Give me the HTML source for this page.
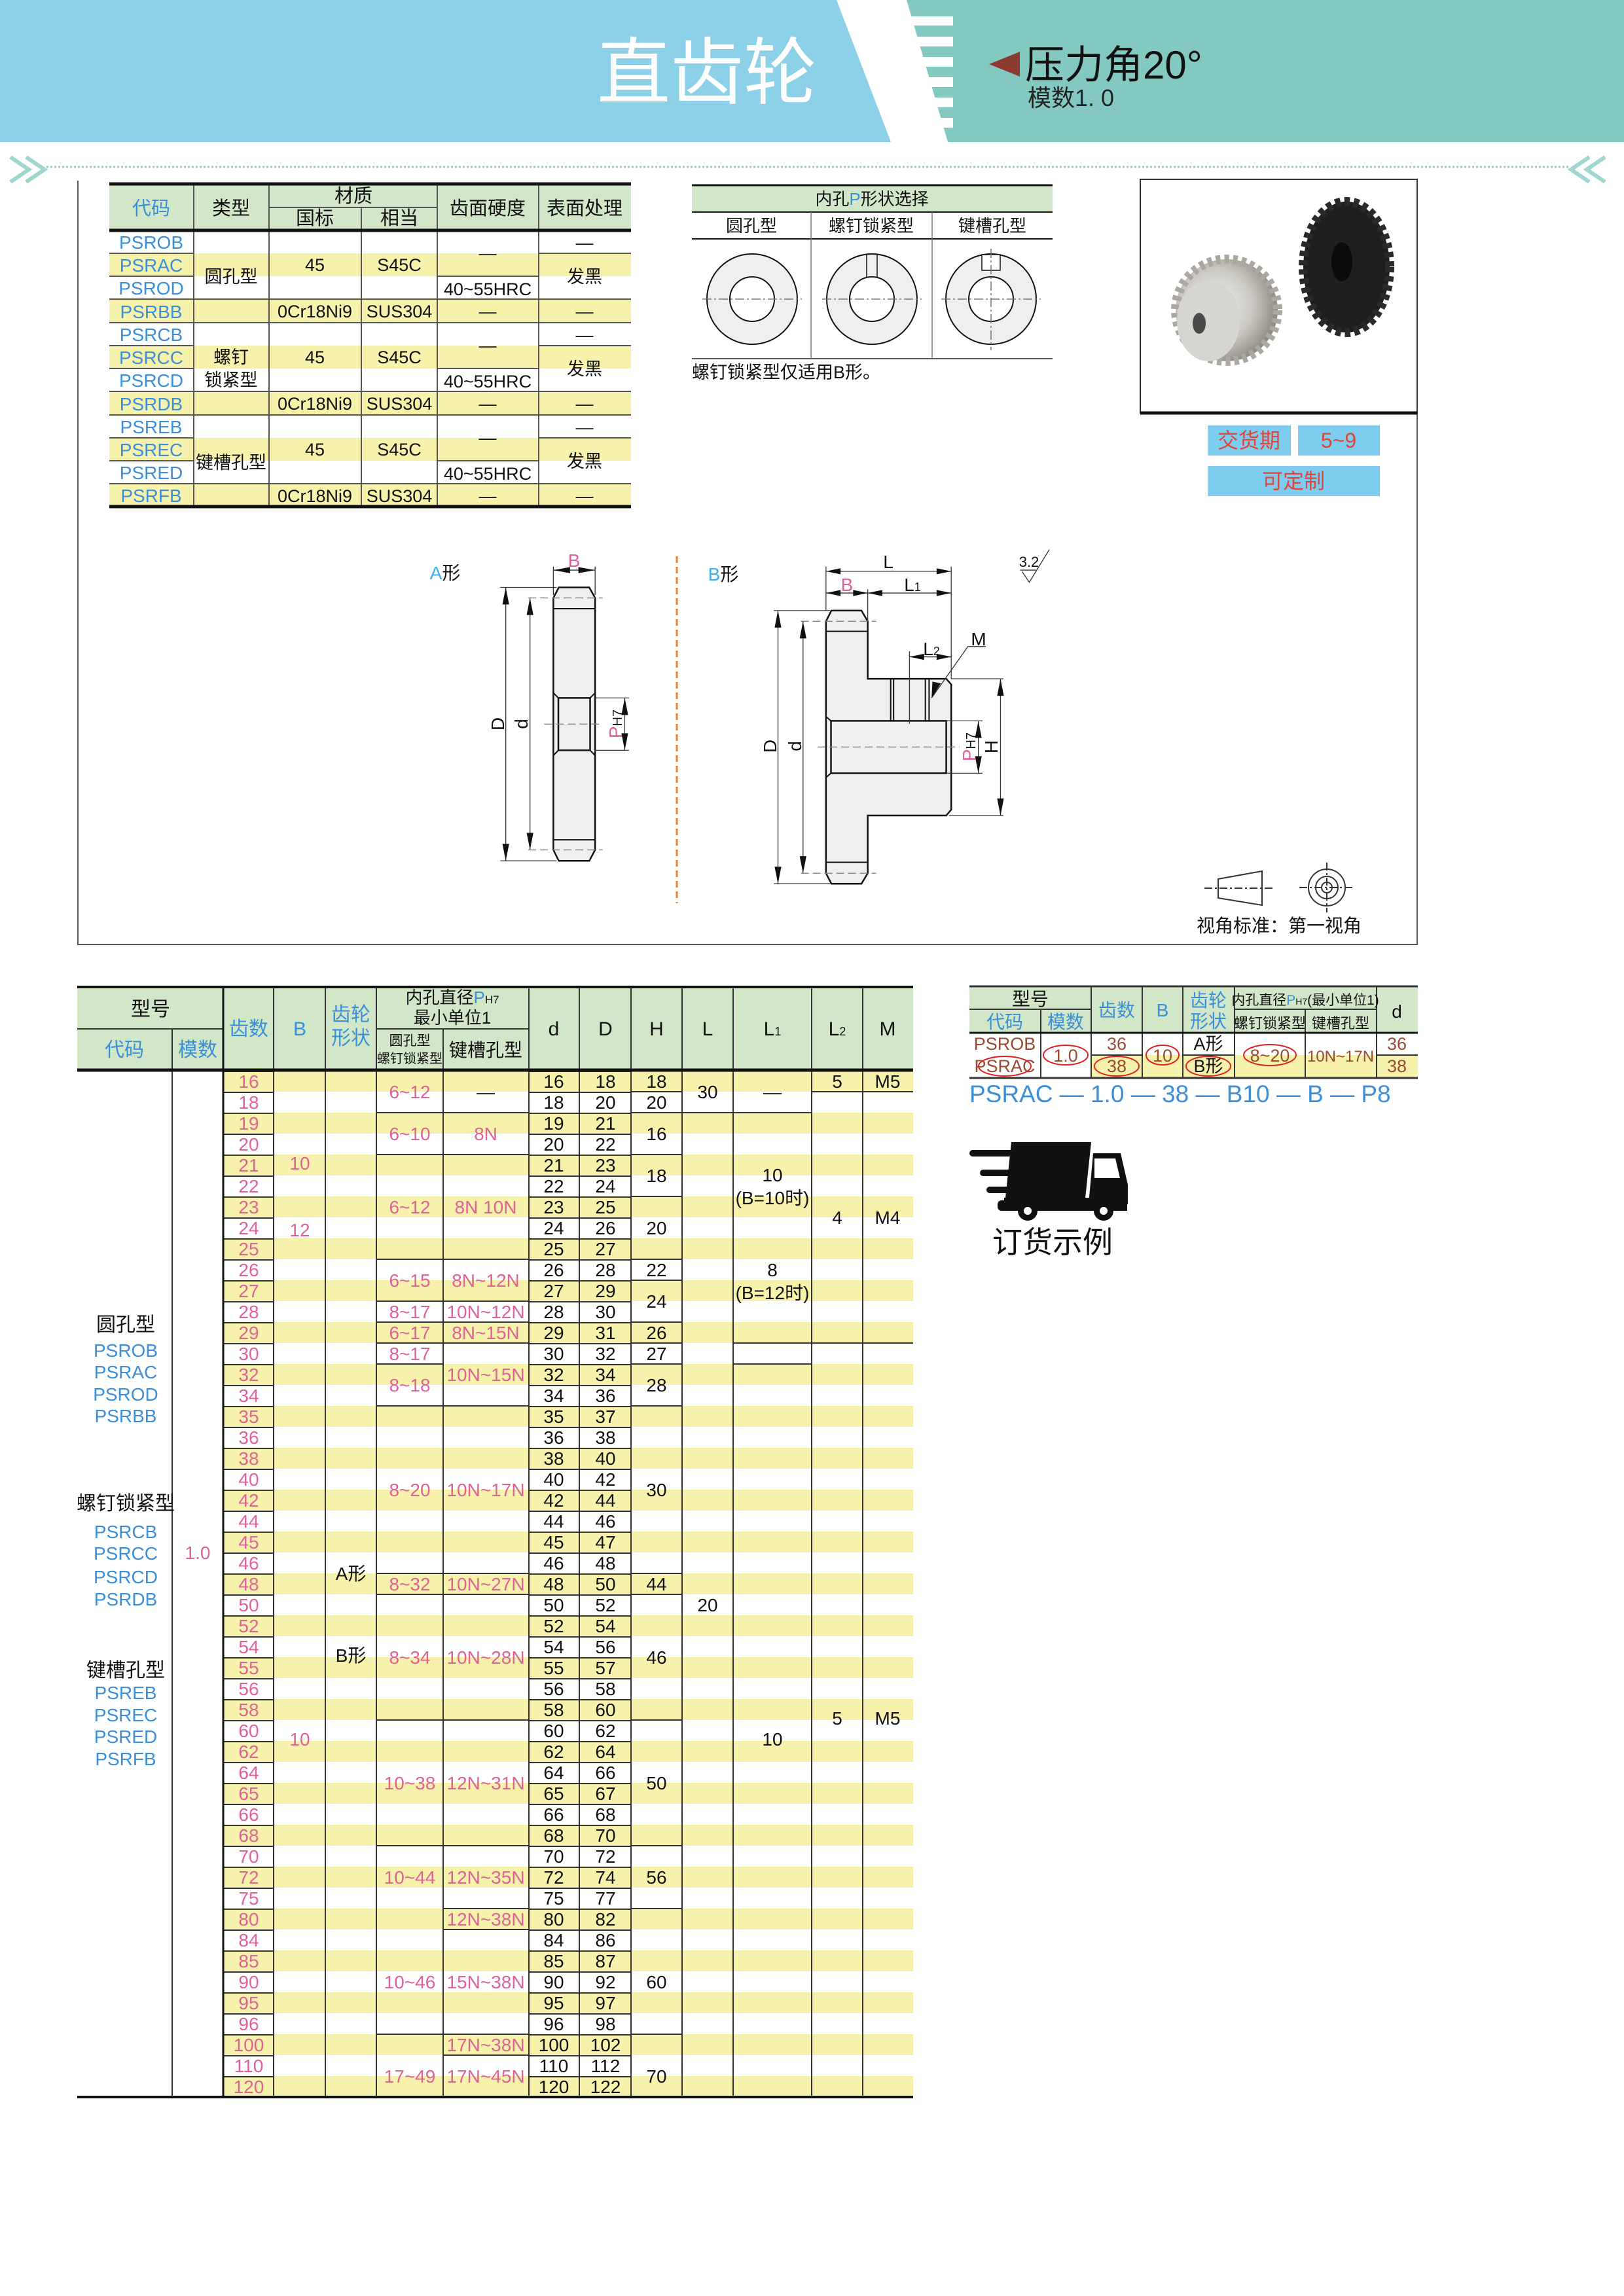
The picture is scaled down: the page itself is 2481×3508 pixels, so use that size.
<!DOCTYPE html>
<html><head><meta charset="utf-8"><style>
html,body{margin:0;padding:0;background:#fff;}
svg{display:block;}
text{font-family:"Liberation Sans","Noto Sans CJK SC",sans-serif;}
</style></head><body>
<svg width="2481" height="3508" viewBox="0 0 2481 3508" xmlns="http://www.w3.org/2000/svg">
<defs>
<pattern id="ystripe" x="0" y="1636" width="10" height="64" patternUnits="userSpaceOnUse"><rect x="0" y="0" width="10" height="32" fill="#f6f2ab"/></pattern>
<pattern id="rowline" x="0" y="1636" width="10" height="32" patternUnits="userSpaceOnUse"><rect x="0" y="0" width="10" height="2" fill="#333"/></pattern>
<radialGradient id="silver" cx="0.4" cy="0.45" r="0.6"><stop offset="0" stop-color="#f4f4f4"/><stop offset="0.6" stop-color="#c9c7c0"/><stop offset="1" stop-color="#8d8a82"/></radialGradient>
</defs>

<!-- HEADER -->
<rect x="0" y="0" width="2481" height="217" fill="#8dd1e8"/>
<polygon points="1385,0 2481,0 2481,217 1448,217" fill="#84c9c1"/>
<polygon points="1278,0 1385,0 1448,217 1361,217" fill="#fff"/>
<g fill="#fff">
<rect x="1385" y="25" width="71" height="14"/><rect x="1392" y="56" width="64" height="15"/><rect x="1400" y="87" width="56" height="15"/><rect x="1408" y="118" width="48" height="15"/><rect x="1416" y="149" width="40" height="15"/><rect x="1424" y="180" width="32" height="15"/>
</g>
<text x="1080" y="150" font-size="112" fill="#fff" text-anchor="middle">直齿轮</text>
<polygon points="1558,79 1558,117 1511,98" fill="#8b3a2e"/>
<text x="1566" y="120" font-size="60" fill="#111">压力角20°</text>
<text x="1570" y="162" font-size="36" fill="#222">模数1. 0</text>

<!-- dotted line + chevrons -->
<line x1="71" y1="255" x2="2397" y2="255" stroke="#8fcfc5" stroke-width="3" stroke-dasharray="3,3"/>
<polyline points="16,240 44,259 16,278" fill="none" stroke="#9fd6cf" stroke-width="6"/>
<polyline points="40,240 68,259 40,278" fill="none" stroke="#9fd6cf" stroke-width="6"/>
<polyline points="2452,240 2424,259 2452,278" fill="none" stroke="#9fd6cf" stroke-width="6"/>
<polyline points="2428,240 2400,259 2428,278" fill="none" stroke="#9fd6cf" stroke-width="6"/>

<!-- frame -->
<polyline points="119,276 119,1443 2165,1443 2165,631" fill="none" stroke="#555" stroke-width="2"/>

<!-- TOP-LEFT MATERIAL TABLE -->
<rect x="167" y="281" width="797" height="71" fill="#d2e7c8"/>
<g fill="#f6f2ab">
<rect x="167" y="387" width="797" height="35"/><rect x="167" y="457" width="797" height="36"/>
<rect x="167" y="528" width="797" height="35"/><rect x="167" y="598" width="797" height="36"/>
<rect x="167" y="669" width="797" height="35"/><rect x="167" y="739" width="797" height="35"/>
</g>
<g stroke="#555" stroke-width="2">
<line x1="296" y1="281" x2="296" y2="774"/><line x1="411" y1="281" x2="411" y2="774"/>
<line x1="552" y1="317" x2="552" y2="774"/><line x1="668" y1="281" x2="668" y2="774"/>
<line x1="823" y1="281" x2="823" y2="774"/>
<line x1="411" y1="317" x2="668" y2="317"/>
<line x1="167" y1="493" x2="964" y2="493"/><line x1="167" y1="634" x2="964" y2="634"/>
<line x1="167" y1="387" x2="296" y2="387"/><line x1="167" y1="422" x2="296" y2="422"/><line x1="167" y1="457" x2="964" y2="457"/>
<line x1="167" y1="528" x2="296" y2="528"/><line x1="167" y1="563" x2="296" y2="563"/><line x1="167" y1="598" x2="964" y2="598"/>
<line x1="167" y1="669" x2="296" y2="669"/><line x1="167" y1="704" x2="296" y2="704"/><line x1="167" y1="739" x2="964" y2="739"/>
<line x1="823" y1="387" x2="964" y2="387"/><line x1="823" y1="528" x2="964" y2="528"/><line x1="823" y1="669" x2="964" y2="669"/>
<line x1="668" y1="422" x2="823" y2="422"/><line x1="668" y1="563" x2="823" y2="563"/><line x1="668" y1="704" x2="823" y2="704"/>
</g>
<line x1="167" y1="281" x2="964" y2="281" stroke="#111" stroke-width="5"/>
<line x1="167" y1="352" x2="964" y2="352" stroke="#111" stroke-width="5"/>
<line x1="167" y1="774" x2="964" y2="774" stroke="#111" stroke-width="5"/>
<g font-size="29" text-anchor="middle" fill="#111">
<text x="231" y="328" fill="#3a8fd8">代码</text><text x="353" y="328">类型</text>
<text x="540" y="309">材质</text><text x="481" y="343">国标</text><text x="610" y="343">相当</text>
<text x="745" y="328">齿面硬度</text><text x="893" y="328">表面处理</text>
</g>
<g font-size="28" text-anchor="middle" fill="#3a8fd8" font-family="Liberation Serif, serif">
<text x="231" y="380">PSROB</text><text x="231" y="415">PSRAC</text><text x="231" y="450">PSROD</text><text x="231" y="486">PSRBB</text>
<text x="231" y="521">PSRCB</text><text x="231" y="556">PSRCC</text><text x="231" y="591">PSRCD</text><text x="231" y="627">PSRDB</text>
<text x="231" y="662">PSREB</text><text x="231" y="697">PSREC</text><text x="231" y="732">PSRED</text><text x="231" y="767">PSRFB</text>
</g>
<g font-size="27" text-anchor="middle" fill="#111">
<text x="353" y="432">圆孔型</text><text x="353" y="555">螺钉</text><text x="353" y="590">锁紧型</text><text x="353" y="716">键槽孔型</text>
<text x="481" y="414">45</text><text x="610" y="414">S45C</text><text x="745" y="396">—</text><text x="745" y="451">40~55HRC</text><text x="893" y="380">—</text><text x="893" y="432">发黑</text>
<text x="481" y="485">0Cr18Ni9</text><text x="610" y="485">SUS304</text><text x="745" y="485">—</text><text x="893" y="485">—</text>
<text x="481" y="555">45</text><text x="610" y="555">S45C</text><text x="745" y="537">—</text><text x="745" y="592">40~55HRC</text><text x="893" y="521">—</text><text x="893" y="573">发黑</text>
<text x="481" y="626">0Cr18Ni9</text><text x="610" y="626">SUS304</text><text x="745" y="626">—</text><text x="893" y="626">—</text>
<text x="481" y="696">45</text><text x="610" y="696">S45C</text><text x="745" y="678">—</text><text x="745" y="733">40~55HRC</text><text x="893" y="662">—</text><text x="893" y="714">发黑</text>
<text x="481" y="767">0Cr18Ni9</text><text x="610" y="767">SUS304</text><text x="745" y="767">—</text><text x="893" y="767">—</text>
</g>

<!-- SHAPE TABLE -->
<rect x="1057" y="283" width="551" height="41" fill="#d2e7c8"/>
<line x1="1057" y1="283" x2="1608" y2="283" stroke="#111" stroke-width="3"/>
<line x1="1057" y1="324" x2="1608" y2="324" stroke="#111" stroke-width="2"/>
<line x1="1057" y1="365" x2="1608" y2="365" stroke="#111" stroke-width="2"/>
<line x1="1057" y1="548" x2="1608" y2="548" stroke="#555" stroke-width="2"/>
<line x1="1239" y1="324" x2="1239" y2="548" stroke="#777" stroke-width="1.5"/>
<line x1="1424" y1="324" x2="1424" y2="548" stroke="#777" stroke-width="1.5"/>
<text x="1332" y="313" font-size="26" text-anchor="middle" fill="#111">内孔<tspan fill="#3a8fd8">P</tspan>形状选择</text>
<g font-size="26" text-anchor="middle" fill="#111"><text x="1148" y="354">圆孔型</text><text x="1331" y="354">螺钉锁紧型</text><text x="1516" y="354">键槽孔型</text></g>
<g stroke="#111" stroke-width="2">
<circle cx="1149" cy="457" r="69" fill="#efefef"/><circle cx="1149" cy="457" r="34" fill="#fff"/>
<circle cx="1332" cy="457" r="69" fill="#efefef"/><circle cx="1332" cy="457" r="34" fill="#fff"/>
<line x1="1324" y1="389" x2="1324" y2="424" stroke-width="1.5"/><line x1="1340" y1="389" x2="1340" y2="424" stroke-width="1.5"/>
<circle cx="1514" cy="457" r="69" fill="#efefef"/><circle cx="1514" cy="457" r="34" fill="#fff"/>
<rect x="1500" y="389" width="28" height="24" fill="#fff" stroke-width="1.5"/>
</g>
<g stroke="#777" stroke-width="1.5" stroke-dasharray="14,4,3,4">
<line x1="1073" y1="457" x2="1225" y2="457"/><line x1="1256" y1="457" x2="1408" y2="457"/><line x1="1438" y1="457" x2="1590" y2="457"/>
<line x1="1514" y1="380" x2="1514" y2="535"/>
</g>
<text x="1057" y="578" font-size="27" fill="#111">螺钉锁紧型仅适用B形。</text>

<!-- PHOTO -->
<rect x="1742" y="274" width="423" height="357" fill="#fff" stroke="#333" stroke-width="2"/>
<line x1="1742" y1="631" x2="2165" y2="631" stroke="#111" stroke-width="5"/>
<ellipse cx="2057" cy="408" rx="66" ry="100" fill="#1e1f1e" stroke="#2a2a2a" stroke-width="14" stroke-dasharray="8,6"/>
<ellipse cx="2050" cy="400" rx="16" ry="30" fill="#0c0c0c"/>
<circle cx="1874" cy="474" r="78" fill="url(#silver)" stroke="#aaa89f" stroke-width="14" stroke-dasharray="7,6"/>
<ellipse cx="1846" cy="490" rx="48" ry="62" fill="#d6d5d0"/>
<ellipse cx="1832" cy="494" rx="10" ry="16" fill="#4a4a48"/>

<!-- DELIVERY -->
<rect x="1845" y="650" width="127" height="46" fill="#7fcdee"/>
<rect x="1983" y="650" width="125" height="46" fill="#7fcdee"/>
<rect x="1845" y="712" width="263" height="46" fill="#7fcdee"/>
<g font-size="32" text-anchor="middle" fill="#e0443a"><text x="1908" y="684">交货期</text><text x="2045" y="684">5~9</text><text x="1976" y="746">可定制</text></g>

<!-- DRAWINGS -->
<line x1="1034" y1="850" x2="1034" y2="1380" stroke="#f07a2a" stroke-width="3" stroke-dasharray="10,6"/>
<g transform="translate(640,820) scale(0.6378,0.3571)">
<g fill="#efefef" stroke="#111" stroke-width="2.5">
<polygon points="335,217 408,217 422,262 422,1340 408,1387 335,1387 322,1340 322,262" vector-effect="non-scaling-stroke"/>
<polygon points="988,316 1060,316 1075,362 1075,608 1263,608 1275,632 1275,1168 1263,1193 1075,1193 1075,1440 1060,1485 988,1485 975,1440 975,362" vector-effect="non-scaling-stroke"/>
<rect x="987" y="788" width="276" height="224" fill="#efefef" vector-effect="non-scaling-stroke"/>
<rect x="334" y="690" width="76" height="224" fill="#efefef" vector-effect="non-scaling-stroke"/>
</g>
<g stroke="#111" stroke-width="2" fill="none">
<line x1="322" y1="308" x2="422" y2="308" vector-effect="non-scaling-stroke"/><line x1="322" y1="1297" x2="422" y2="1297" vector-effect="non-scaling-stroke"/>
<line x1="322" y1="668" x2="334" y2="690" vector-effect="non-scaling-stroke"/><line x1="422" y1="668" x2="410" y2="690" vector-effect="non-scaling-stroke"/>
<line x1="322" y1="936" x2="334" y2="914" vector-effect="non-scaling-stroke"/><line x1="422" y1="936" x2="410" y2="914" vector-effect="non-scaling-stroke"/>
<line x1="975" y1="405" x2="1075" y2="405" vector-effect="non-scaling-stroke"/><line x1="975" y1="1393" x2="1075" y2="1393" vector-effect="non-scaling-stroke"/>
<line x1="975" y1="770" x2="987" y2="788" vector-effect="non-scaling-stroke"/><line x1="975" y1="1030" x2="987" y2="1012" vector-effect="non-scaling-stroke"/>
<line x1="1130" y1="608" x2="1130" y2="788" vector-effect="non-scaling-stroke"/><line x1="1137" y1="608" x2="1137" y2="788" vector-effect="non-scaling-stroke"/>
<line x1="1213" y1="608" x2="1213" y2="788" vector-effect="non-scaling-stroke"/><line x1="1222" y1="608" x2="1222" y2="788" vector-effect="non-scaling-stroke"/>
</g>
<g stroke="#333" stroke-width="1.3" fill="none">
<line x1="208" y1="217" x2="208" y2="1387" vector-effect="non-scaling-stroke"/><line x1="266" y1="262" x2="266" y2="1340" vector-effect="non-scaling-stroke"/>
<line x1="195" y1="217" x2="330" y2="217" vector-effect="non-scaling-stroke"/><line x1="195" y1="1387" x2="330" y2="1387" vector-effect="non-scaling-stroke"/>
<line x1="322" y1="128" x2="322" y2="250" vector-effect="non-scaling-stroke"/><line x1="422" y1="128" x2="422" y2="250" vector-effect="non-scaling-stroke"/>
<line x1="322" y1="143" x2="422" y2="143" vector-effect="non-scaling-stroke"/>
<line x1="420" y1="690" x2="503" y2="690" vector-effect="non-scaling-stroke"/><line x1="420" y1="914" x2="503" y2="914" vector-effect="non-scaling-stroke"/>
<line x1="493" y1="690" x2="493" y2="914" vector-effect="non-scaling-stroke"/>
<line x1="975" y1="128" x2="975" y2="316" vector-effect="non-scaling-stroke"/><line x1="1075" y1="225" x2="1075" y2="362" vector-effect="non-scaling-stroke"/>
<line x1="1275" y1="128" x2="1275" y2="608" vector-effect="non-scaling-stroke"/><line x1="1175" y1="490" x2="1175" y2="800" vector-effect="non-scaling-stroke"/>
<line x1="975" y1="148" x2="1275" y2="148" vector-effect="non-scaling-stroke"/><line x1="975" y1="241" x2="1275" y2="241" vector-effect="non-scaling-stroke"/>
<line x1="1175" y1="514" x2="1275" y2="514" vector-effect="non-scaling-stroke"/>
<line x1="860" y1="316" x2="860" y2="1485" vector-effect="non-scaling-stroke"/><line x1="920" y1="362" x2="920" y2="1440" vector-effect="non-scaling-stroke"/>
<line x1="850" y1="316" x2="985" y2="316" vector-effect="non-scaling-stroke"/><line x1="850" y1="1485" x2="985" y2="1485" vector-effect="non-scaling-stroke"/>
<line x1="1393" y1="608" x2="1393" y2="1193" vector-effect="non-scaling-stroke"/>
<line x1="1275" y1="608" x2="1400" y2="608" vector-effect="non-scaling-stroke"/><line x1="1270" y1="1193" x2="1400" y2="1193" vector-effect="non-scaling-stroke"/>
<line x1="1340" y1="788" x2="1340" y2="1012" vector-effect="non-scaling-stroke"/>
<line x1="1265" y1="788" x2="1350" y2="788" vector-effect="non-scaling-stroke"/><line x1="1265" y1="1012" x2="1350" y2="1012" vector-effect="non-scaling-stroke"/>
<polyline points="1358,470 1315,470 1228,690" vector-effect="non-scaling-stroke"/>
<polyline points="1445,150 1462,195 1510,55" vector-effect="non-scaling-stroke"/><line x1="1440" y1="143" x2="1478" y2="143" vector-effect="non-scaling-stroke"/>
</g>
<g stroke="#888" stroke-width="1.5" stroke-dasharray="12,6" fill="none">
<line x1="262" y1="262" x2="440" y2="262" vector-effect="non-scaling-stroke"/><line x1="262" y1="1340" x2="440" y2="1340" vector-effect="non-scaling-stroke"/>
<line x1="915" y1="362" x2="1095" y2="362" vector-effect="non-scaling-stroke"/><line x1="915" y1="1440" x2="1095" y2="1440" vector-effect="non-scaling-stroke"/>
<line x1="300" y1="802" x2="440" y2="802" vector-effect="non-scaling-stroke"/><line x1="955" y1="900" x2="1295" y2="900" vector-effect="non-scaling-stroke"/>
</g>
<g fill="#111">
<polygon points="208,217 200,290 216,290"/><polygon points="208,1387 200,1314 216,1314"/>
<polygon points="266,262 258,335 274,335"/><polygon points="266,1340 258,1267 274,1267"/>
<polygon points="860,316 852,389 868,389"/><polygon points="860,1485 852,1412 868,1412"/>
<polygon points="920,362 912,435 928,435"/><polygon points="920,1440 912,1367 928,1367"/>
<polygon points="1393,608 1385,681 1401,681"/><polygon points="1393,1193 1385,1120 1401,1120"/>
<polygon points="1340,788 1332,861 1348,861"/><polygon points="1340,1012 1332,939 1348,939"/>
<polygon points="493,690 485,763 501,763"/><polygon points="493,914 485,841 501,841"/>
<polygon points="322,143 362,130 362,156"/><polygon points="422,143 382,130 382,156"/>
<polygon points="975,148 1010,135 1010,161"/><polygon points="1275,148 1240,135 1240,161"/>
<polygon points="975,241 1010,228 1010,254"/><polygon points="1075,241 1040,228 1040,254"/>
<polygon points="1075,241 1110,228 1110,254"/><polygon points="1275,241 1240,228 1240,254"/>
<polygon points="1175,514 1210,501 1210,527"/><polygon points="1275,514 1240,501 1240,527"/>
<polygon points="1228,690 1230,620 1250,628"/>
</g>
</g>
<g font-size="28" fill="#111" text-anchor="middle">
<text x="680" y="885"><tspan fill="#3fb0e6">A</tspan>形</text>
<text x="877" y="866" fill="#e0609a">B</text>
<text x="1105" y="887"><tspan fill="#3fb0e6">B</tspan>形</text>
<text x="1357" y="868">L</text>
<text x="1294" y="903" fill="#e0609a">B</text>
<text x="1394" y="903">L<tspan font-size="18">1</tspan></text>
<text x="1423" y="1001">L<tspan font-size="18">2</tspan></text>
<text x="1495" y="986">M</text>
<text x="1572" y="866" font-size="22">3.2</text>
</g>
<g font-size="28" fill="#111" text-anchor="middle">
<text transform="translate(770,1106) rotate(-90)">D</text>
<text transform="translate(806,1106) rotate(-90)">d</text>
<text transform="translate(950,1106) rotate(-90)" fill="#e0609a">P<tspan fill="#111" font-size="20">H7</tspan></text>
<text transform="translate(1186,1140) rotate(-90)">D</text>
<text transform="translate(1224,1140) rotate(-90)">d</text>
<text transform="translate(1490,1141) rotate(-90)" fill="#e0609a">P<tspan fill="#111" font-size="20">H7</tspan></text>
<text transform="translate(1524,1141) rotate(-90)">H</text>
</g>
<!-- view standard -->
<g stroke="#333" stroke-width="2" fill="#fff">
<polygon points="1861,1343 1928,1331 1928,1383 1861,1372"/>
<line x1="1840" y1="1357" x2="1946" y2="1357" stroke-dasharray="12,4,3,4"/>
<circle cx="2027" cy="1356" r="28"/><circle cx="2027" cy="1356" r="17"/><circle cx="2027" cy="1356" r="8"/>
<line x1="1985" y1="1356" x2="2069" y2="1356" stroke-dasharray="12,4,3,4"/><line x1="2027" y1="1318" x2="2027" y2="1394" stroke-dasharray="12,4,3,4"/>
</g>
<text x="1828" y="1424" font-size="28" fill="#111">视角标准：第一视角</text>

<!-- MAIN TABLE -->
<rect x="118" y="1508" width="1277" height="127" fill="#d2e7c8"/>
<rect x="341" y="1636" width="1054" height="1568" fill="url(#ystripe)"/>
<rect x="341" y="1636" width="77" height="1568" fill="url(#rowline)"/>
<rect x="808" y="1636" width="156" height="1568" fill="url(#rowline)"/>
<g stroke="#333" stroke-width="2">
<line x1="418" y1="1508" x2="418" y2="3204"/><line x1="497" y1="1508" x2="497" y2="3204"/><line x1="575" y1="1508" x2="575" y2="3204"/>
<line x1="677" y1="1572" x2="677" y2="3204"/><line x1="808" y1="1508" x2="808" y2="3204"/><line x1="885" y1="1508" x2="885" y2="3204"/>
<line x1="964" y1="1508" x2="964" y2="3204"/><line x1="1042" y1="1508" x2="1042" y2="3204"/><line x1="1120" y1="1508" x2="1120" y2="3204"/>
<line x1="1240" y1="1508" x2="1240" y2="3204"/><line x1="1318" y1="1508" x2="1318" y2="3204"/>
<line x1="263" y1="1572" x2="263" y2="3204"/>
<line x1="118" y1="1572" x2="341" y2="1572"/><line x1="575" y1="1572" x2="808" y2="1572"/>
</g>
<line x1="341" y1="1508" x2="341" y2="3204" stroke="#111" stroke-width="3"/>
<g stroke="#333" stroke-width="2">
<line x1="575" y1="1700" x2="808" y2="1700"/><line x1="575" y1="1764" x2="808" y2="1764"/><line x1="575" y1="1924" x2="808" y2="1924"/>
<line x1="575" y1="1988" x2="808" y2="1988"/><line x1="575" y1="2020" x2="808" y2="2020"/><line x1="575" y1="2052" x2="808" y2="2052"/>
<line x1="575" y1="2084" x2="677" y2="2084"/><line x1="575" y1="2148" x2="808" y2="2148"/><line x1="575" y1="2404" x2="808" y2="2404"/>
<line x1="575" y1="2436" x2="808" y2="2436"/><line x1="575" y1="2628" x2="808" y2="2628"/><line x1="575" y1="2820" x2="808" y2="2820"/>
<line x1="677" y1="2916" x2="808" y2="2916"/><line x1="677" y1="2948" x2="808" y2="2948"/><line x1="575" y1="3108" x2="808" y2="3108"/><line x1="677" y1="3140" x2="808" y2="3140"/>
<line x1="964" y1="1668" x2="1042" y2="1668"/><line x1="964" y1="1700" x2="1042" y2="1700"/><line x1="964" y1="1764" x2="1042" y2="1764"/>
<line x1="964" y1="1828" x2="1042" y2="1828"/><line x1="964" y1="1924" x2="1042" y2="1924"/><line x1="964" y1="1956" x2="1042" y2="1956"/>
<line x1="964" y1="2020" x2="1042" y2="2020"/><line x1="964" y1="2052" x2="1042" y2="2052"/><line x1="964" y1="2084" x2="1042" y2="2084"/>
<line x1="964" y1="2148" x2="1042" y2="2148"/><line x1="964" y1="2404" x2="1042" y2="2404"/><line x1="964" y1="2436" x2="1042" y2="2436"/>
<line x1="964" y1="2628" x2="1042" y2="2628"/><line x1="964" y1="2820" x2="1042" y2="2820"/><line x1="964" y1="2916" x2="1042" y2="2916"/><line x1="964" y1="3108" x2="1042" y2="3108"/>
<line x1="1042" y1="1700" x2="1240" y2="1700"/><line x1="1120" y1="2052" x2="1240" y2="2052"/><line x1="1120" y1="2084" x2="1240" y2="2084"/>
<line x1="1240" y1="1668" x2="1395" y2="1668"/><line x1="1240" y1="2052" x2="1395" y2="2052"/>
</g>
<line x1="118" y1="1508" x2="1395" y2="1508" stroke="#111" stroke-width="4"/>
<line x1="118" y1="1635" x2="1395" y2="1635" stroke="#111" stroke-width="5"/>
<line x1="118" y1="3204" x2="1395" y2="3204" stroke="#111" stroke-width="4"/>
<g font-size="30" text-anchor="middle" fill="#111">
<text x="230" y="1552">型号</text>
<text x="190" y="1614" fill="#3a8fd8">代码</text><text x="302" y="1614" fill="#3a8fd8">模数</text>
<text x="380" y="1582" fill="#3a8fd8">齿数</text><text x="458" y="1582" fill="#3a8fd8">B</text>
<text x="536" y="1560" fill="#3a8fd8">齿轮</text><text x="536" y="1596" fill="#3a8fd8">形状</text>
<text x="691" y="1533" font-size="26">内孔直径<tspan fill="#3a8fd8">P</tspan><tspan font-size="17">H7</tspan></text>
<text x="691" y="1564" font-size="26">最小单位1</text>
<text x="626" y="1597" font-size="21">圆孔型</text><text x="626" y="1624" font-size="20">螺钉锁紧型</text>
<text x="742" y="1614" font-size="28">键槽孔型</text>
<text x="846" y="1582">d</text><text x="925" y="1582">D</text><text x="1003" y="1582">H</text><text x="1081" y="1582">L</text>
<text x="1180" y="1582">L<tspan font-size="18">1</tspan></text><text x="1279" y="1582">L<tspan font-size="18">2</tspan></text><text x="1356" y="1582">M</text>
</g>
<g font-size="28" text-anchor="middle" fill="#3a8fd8">
<text x="192" y="2034" fill="#111" font-size="30">圆孔型</text><text x="192" y="2073">PSROB</text><text x="192" y="2106">PSRAC</text><text x="192" y="2140">PSROD</text><text x="192" y="2173">PSRBB</text>
<text x="192" y="2307" fill="#111" font-size="30">螺钉锁紧型</text><text x="192" y="2350">PSRCB</text><text x="192" y="2383">PSRCC</text><text x="192" y="2419">PSRCD</text><text x="192" y="2453">PSRDB</text>
<text x="192" y="2562" fill="#111" font-size="30">键槽孔型</text><text x="192" y="2596">PSREB</text><text x="192" y="2630">PSREC</text><text x="192" y="2663">PSRED</text><text x="192" y="2697">PSRFB</text>
</g>
<text x="302" y="2382" font-size="28" text-anchor="middle" fill="#e0609a">1.0</text>
<g font-size="28" text-anchor="middle" fill="#e0609a">
<text x="380" y="1662">16</text><text x="380" y="1694">18</text><text x="380" y="1726">19</text><text x="380" y="1758">20</text><text x="380" y="1790">21</text><text x="380" y="1822">22</text><text x="380" y="1854">23</text><text x="380" y="1886">24</text><text x="380" y="1918">25</text><text x="380" y="1950">26</text><text x="380" y="1982">27</text><text x="380" y="2014">28</text><text x="380" y="2046">29</text><text x="380" y="2078">30</text><text x="380" y="2110">32</text><text x="380" y="2142">34</text><text x="380" y="2174">35</text><text x="380" y="2206">36</text><text x="380" y="2238">38</text><text x="380" y="2270">40</text><text x="380" y="2302">42</text><text x="380" y="2334">44</text><text x="380" y="2366">45</text><text x="380" y="2398">46</text><text x="380" y="2430">48</text><text x="380" y="2462">50</text><text x="380" y="2494">52</text><text x="380" y="2526">54</text><text x="380" y="2558">55</text><text x="380" y="2590">56</text><text x="380" y="2622">58</text><text x="380" y="2654">60</text><text x="380" y="2686">62</text><text x="380" y="2718">64</text><text x="380" y="2750">65</text><text x="380" y="2782">66</text><text x="380" y="2814">68</text><text x="380" y="2846">70</text><text x="380" y="2878">72</text><text x="380" y="2910">75</text><text x="380" y="2942">80</text><text x="380" y="2974">84</text><text x="380" y="3006">85</text><text x="380" y="3038">90</text><text x="380" y="3070">95</text><text x="380" y="3102">96</text><text x="380" y="3134">100</text><text x="380" y="3166">110</text><text x="380" y="3198">120</text>
</g>
<g font-size="28" text-anchor="middle" fill="#111">
<text x="846" y="1662">16</text><text x="846" y="1694">18</text><text x="846" y="1726">19</text><text x="846" y="1758">20</text><text x="846" y="1790">21</text><text x="846" y="1822">22</text><text x="846" y="1854">23</text><text x="846" y="1886">24</text><text x="846" y="1918">25</text><text x="846" y="1950">26</text><text x="846" y="1982">27</text><text x="846" y="2014">28</text><text x="846" y="2046">29</text><text x="846" y="2078">30</text><text x="846" y="2110">32</text><text x="846" y="2142">34</text><text x="846" y="2174">35</text><text x="846" y="2206">36</text><text x="846" y="2238">38</text><text x="846" y="2270">40</text><text x="846" y="2302">42</text><text x="846" y="2334">44</text><text x="846" y="2366">45</text><text x="846" y="2398">46</text><text x="846" y="2430">48</text><text x="846" y="2462">50</text><text x="846" y="2494">52</text><text x="846" y="2526">54</text><text x="846" y="2558">55</text><text x="846" y="2590">56</text><text x="846" y="2622">58</text><text x="846" y="2654">60</text><text x="846" y="2686">62</text><text x="846" y="2718">64</text><text x="846" y="2750">65</text><text x="846" y="2782">66</text><text x="846" y="2814">68</text><text x="846" y="2846">70</text><text x="846" y="2878">72</text><text x="846" y="2910">75</text><text x="846" y="2942">80</text><text x="846" y="2974">84</text><text x="846" y="3006">85</text><text x="846" y="3038">90</text><text x="846" y="3070">95</text><text x="846" y="3102">96</text><text x="846" y="3134">100</text><text x="846" y="3166">110</text><text x="846" y="3198">120</text>
</g>
<g font-size="28" text-anchor="middle" fill="#111">
<text x="925" y="1662">18</text><text x="925" y="1694">20</text><text x="925" y="1726">21</text><text x="925" y="1758">22</text><text x="925" y="1790">23</text><text x="925" y="1822">24</text><text x="925" y="1854">25</text><text x="925" y="1886">26</text><text x="925" y="1918">27</text><text x="925" y="1950">28</text><text x="925" y="1982">29</text><text x="925" y="2014">30</text><text x="925" y="2046">31</text><text x="925" y="2078">32</text><text x="925" y="2110">34</text><text x="925" y="2142">36</text><text x="925" y="2174">37</text><text x="925" y="2206">38</text><text x="925" y="2238">40</text><text x="925" y="2270">42</text><text x="925" y="2302">44</text><text x="925" y="2334">46</text><text x="925" y="2366">47</text><text x="925" y="2398">48</text><text x="925" y="2430">50</text><text x="925" y="2462">52</text><text x="925" y="2494">54</text><text x="925" y="2526">56</text><text x="925" y="2558">57</text><text x="925" y="2590">58</text><text x="925" y="2622">60</text><text x="925" y="2654">62</text><text x="925" y="2686">64</text><text x="925" y="2718">66</text><text x="925" y="2750">67</text><text x="925" y="2782">68</text><text x="925" y="2814">70</text><text x="925" y="2846">72</text><text x="925" y="2878">74</text><text x="925" y="2910">77</text><text x="925" y="2942">82</text><text x="925" y="2974">86</text><text x="925" y="3006">87</text><text x="925" y="3038">92</text><text x="925" y="3070">97</text><text x="925" y="3102">98</text><text x="925" y="3134">102</text><text x="925" y="3166">112</text><text x="925" y="3198">122</text>
</g>
<g font-size="28" text-anchor="middle" fill="#e0609a">
<text x="458" y="1787">10</text><text x="458" y="1889">12</text><text x="458" y="2667">10</text>
<text x="626" y="1678">6~12</text><text x="626" y="1742">6~10</text><text x="742" y="1742">8N</text>
<text x="626" y="1854">6~12</text><text x="742" y="1854">8N  10N</text>
<text x="626" y="1966">6~15</text><text x="742" y="1966">8N~12N</text>
<text x="626" y="2014">8~17</text><text x="742" y="2014">10N~12N</text>
<text x="626" y="2046">6~17</text><text x="742" y="2046">8N~15N</text>
<text x="626" y="2078">8~17</text><text x="742" y="2110">10N~15N</text><text x="626" y="2126">8~18</text>
<text x="626" y="2286">8~20</text><text x="742" y="2286">10N~17N</text>
<text x="626" y="2430">8~32</text><text x="742" y="2430">10N~27N</text>
<text x="626" y="2542">8~34</text><text x="742" y="2542">10N~28N</text>
<text x="626" y="2734">10~38</text><text x="742" y="2734">12N~31N</text>
<text x="626" y="2878">10~44</text><text x="742" y="2878">12N~35N</text>
<text x="742" y="2942">12N~38N</text>
<text x="626" y="3038">10~46</text><text x="742" y="3038">15N~38N</text>
<text x="742" y="3134">17N~38N</text>
<text x="626" y="3182">17~49</text><text x="742" y="3182">17N~45N</text>
</g>
<g font-size="28" text-anchor="middle" fill="#111">
<text x="742" y="1678">—</text>
<text x="536" y="2414">A形</text><text x="536" y="2539">B形</text>
<text x="1003" y="1662">18</text><text x="1003" y="1694">20</text><text x="1003" y="1742">16</text><text x="1003" y="1806">18</text><text x="1003" y="1886">20</text>
<text x="1003" y="1950">22</text><text x="1003" y="1998">24</text><text x="1003" y="2046">26</text><text x="1003" y="2078">27</text><text x="1003" y="2126">28</text>
<text x="1003" y="2286">30</text><text x="1003" y="2430">44</text><text x="1003" y="2542">46</text><text x="1003" y="2734">50</text><text x="1003" y="2878">56</text><text x="1003" y="3038">60</text><text x="1003" y="3182">70</text>
<text x="1081" y="1678">30</text><text x="1081" y="2462">20</text>
<text x="1180" y="1678">—</text><text x="1180" y="1805">10</text><text x="1180" y="1840">(B=10时)</text>
<text x="1180" y="1950">8</text><text x="1180" y="1985">(B=12时)</text><text x="1180" y="2667">10</text>
<text x="1279" y="1662">5</text><text x="1279" y="1870">4</text><text x="1279" y="2635">5</text>
<text x="1356" y="1662">M5</text><text x="1356" y="1870">M4</text><text x="1356" y="2635">M5</text>
</g>

<!-- ORDER EXAMPLE TABLE -->
<rect x="1481" y="1507" width="685" height="71" fill="#d2e7c8"/>
<rect x="1667" y="1612" width="499" height="35" fill="#f6f2ab"/>
<g stroke="#333" stroke-width="2">
<line x1="1590" y1="1542" x2="1590" y2="1647"/><line x1="1667" y1="1507" x2="1667" y2="1647"/><line x1="1745" y1="1507" x2="1745" y2="1647"/>
<line x1="1807" y1="1507" x2="1807" y2="1647"/><line x1="1886" y1="1507" x2="1886" y2="1647"/><line x1="1994" y1="1542" x2="1994" y2="1647"/>
<line x1="2103" y1="1507" x2="2103" y2="1647"/>
<line x1="1481" y1="1542" x2="1667" y2="1542"/><line x1="1886" y1="1542" x2="2103" y2="1542"/>
<line x1="1667" y1="1612" x2="1745" y2="1612"/><line x1="1807" y1="1612" x2="1886" y2="1612"/><line x1="2103" y1="1612" x2="2166" y2="1612"/>
</g>
<line x1="1481" y1="1507" x2="2166" y2="1507" stroke="#333" stroke-width="3"/>
<line x1="1481" y1="1578" x2="2166" y2="1578" stroke="#111" stroke-width="3"/>
<line x1="1481" y1="1647" x2="2166" y2="1647" stroke="#333" stroke-width="3"/>
<g font-size="28" text-anchor="middle" fill="#111">
<text x="1574" y="1536">型号</text>
<text x="1535" y="1571" fill="#3a8fd8">代码</text><text x="1628" y="1571" fill="#3a8fd8">模数</text>
<text x="1706" y="1553" fill="#3a8fd8">齿数</text><text x="1776" y="1553" fill="#3a8fd8">B</text>
<text x="1846" y="1538" fill="#3a8fd8">齿轮</text><text x="1846" y="1570" fill="#3a8fd8">形状</text>
<text x="1994" y="1535" font-size="21">内孔直径<tspan fill="#3a8fd8">P</tspan><tspan font-size="14">H7</tspan>(最小单位1)</text>
<text x="1940" y="1571" font-size="22">螺钉锁紧型</text><text x="2048" y="1571" font-size="22">键槽孔型</text>
<text x="2134" y="1555">d</text>
</g>
<g font-size="27" text-anchor="middle" fill="#9a4a32">
<text x="1535" y="1604">PSROB</text><text x="1535" y="1638">PSRAC</text>
<text x="1628" y="1622">1.0</text>
<text x="1706" y="1604">36</text><text x="1706" y="1638">38</text>
<text x="1776" y="1622">10</text>
<text x="1846" y="1604" fill="#111">A形</text><text x="1846" y="1638" fill="#111">B形</text>
<text x="1940" y="1622">8~20</text><text x="2048" y="1622" font-size="24">10N~17N</text>
<text x="2134" y="1604">36</text><text x="2134" y="1638">38</text>
</g>
<g fill="none" stroke="#e02020" stroke-width="2">
<ellipse cx="1535" cy="1629" rx="40" ry="15"/><ellipse cx="1628" cy="1612" rx="34" ry="15"/>
<ellipse cx="1706" cy="1629" rx="34" ry="15"/><ellipse cx="1776" cy="1612" rx="25" ry="15"/>
<ellipse cx="1846" cy="1629" rx="34" ry="15"/><ellipse cx="1940" cy="1612" rx="40" ry="16"/>
</g>
<text x="1481" y="1684" font-size="37" fill="#3a8fd8">PSRAC — 1.0 — 38 — B10 — B — P8</text>

<!-- truck -->
<g fill="#111">
<polygon points="1545,1745 1667,1745 1657,1840 1535,1840"/>
<polygon points="1670,1762 1712,1762 1723,1810 1723,1840 1663,1840"/>
<rect x="1534" y="1830" width="188" height="20"/>
<rect x="1481" y="1757" width="80" height="10" rx="5"/><rect x="1497" y="1787" width="70" height="10" rx="5"/><rect x="1507" y="1813" width="60" height="10" rx="5"/>
<rect x="1524" y="1834" width="30" height="16" rx="6"/>
<circle cx="1570" cy="1850" r="15"/><circle cx="1686" cy="1850" r="15"/>
</g>
<polygon points="1672,1770 1704,1770 1711,1800 1672,1800" fill="#fff"/>
<circle cx="1570" cy="1850" r="6" fill="#fff"/><circle cx="1686" cy="1850" r="6" fill="#fff"/>
<text x="1516" y="1914" font-size="46" fill="#111">订货示例</text>
</svg>
</body></html>
